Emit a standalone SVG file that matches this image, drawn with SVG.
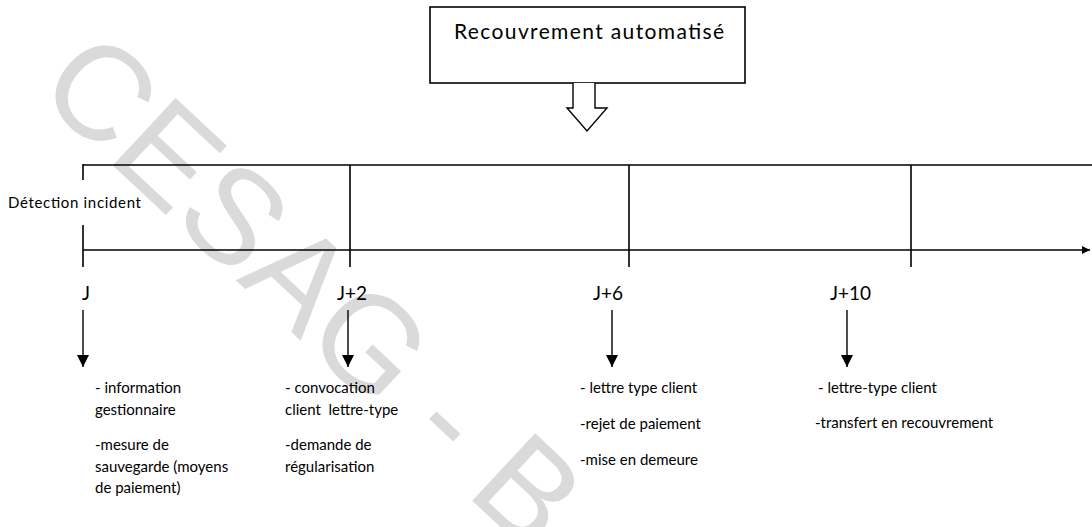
<svg xmlns="http://www.w3.org/2000/svg" width="1092" height="527" viewBox="0 0 1092 527">
<style>
  .ln { stroke: #000; stroke-width: 1.6; fill: none; }
  .ar { stroke: #000; stroke-width: 1.4; fill: none; }
  .t { font-family: Lato, "Liberation Sans", sans-serif; font-size: 15px; fill: #000; }
  .lbl { font-family: Lato, "Liberation Sans", sans-serif; font-size: 19px; fill: #000; }
  .wm { font-family: "Liberation Sans", Arial, sans-serif; font-size: 134px; fill: #dadada; }
</style>
<defs>
  <marker id="ah" viewBox="0 0 10 10" refX="10" refY="5" markerWidth="8" markerHeight="8" markerUnits="userSpaceOnUse" orient="auto">
    <path d="M0,0 L10,5 L0,10 Z" fill="#000"/>
  </marker>
  <marker id="ah2" viewBox="0 0 10 10" refX="10" refY="5" markerWidth="12" markerHeight="12" markerUnits="userSpaceOnUse" orient="auto">
    <path d="M0,0 L10,5 L0,10 Z" fill="#000"/>
  </marker>
</defs>

<text class="wm" transform="translate(34,92) rotate(43)">CESAG - B</text>

<g id="title">
  <rect x="430" y="7" width="315" height="76" fill="#fff" stroke="#000" stroke-width="1.6"/>
  <text class="t" x="454" y="39" style="font-size:21px" textLength="270" lengthAdjust="spacing">Recouvrement automatisé</text>
</g>

<g id="block-arrow">
  <path d="M573,83 L573,108 L567,108 L587,131 L607,108 L595,108 L595,83" fill="#fff" stroke="#000" stroke-width="1.4"/>
</g>

<g id="connectors">
  <line class="ln" x1="83" y1="165" x2="1092" y2="165"/>
  <line class="ln" x1="83" y1="250" x2="1090" y2="250" marker-end="url(#ah)"/>
  <line class="ln" x1="83" y1="164" x2="83" y2="180"/>
  <line class="ln" x1="83" y1="225" x2="83" y2="267"/>
  <line class="ln" x1="350" y1="165" x2="350" y2="267"/>
  <line class="ln" x1="629" y1="165" x2="629" y2="267"/>
  <line class="ln" x1="911" y1="165" x2="911" y2="267"/>
  <line class="ar" x1="83" y1="310" x2="83" y2="367" marker-end="url(#ah2)"/>
  <line class="ar" x1="348" y1="310" x2="348" y2="367" marker-end="url(#ah2)"/>
  <line class="ar" x1="612" y1="310" x2="612" y2="367" marker-end="url(#ah2)"/>
  <line class="ar" x1="847" y1="310" x2="847" y2="367" marker-end="url(#ah2)"/>
</g>

<g id="detection">
  <text class="t" x="8" y="208" textLength="133" lengthAdjust="spacing">Détection incident</text>
</g>

<g id="j0">
  <text class="lbl" x="82" y="300">J</text>
  <text class="t" x="95" y="393">- information</text>
  <text class="t" x="95" y="415">gestionnaire</text>
  <text class="t" x="95" y="450">-mesure de</text>
  <text class="t" x="95" y="472">sauvegarde (moyens</text>
  <text class="t" x="95" y="493">de paiement)</text>
</g>

<g id="j2">
  <text class="lbl" x="337" y="300">J+2</text>
  <text class="t" x="285" y="393">- convocation</text>
  <text class="t" x="285" y="415">client&#160; lettre-type</text>
  <text class="t" x="285" y="450">-demande de</text>
  <text class="t" x="285" y="472">régularisation</text>
</g>

<g id="j6">
  <text class="lbl" x="593" y="300">J+6</text>
  <text class="t" x="580" y="393">- lettre type client</text>
  <text class="t" x="580" y="429">-rejet de paiement</text>
  <text class="t" x="580" y="465">-mise en demeure</text>
</g>

<g id="j10">
  <text class="lbl" x="830" y="300">J+10</text>
  <text class="t" x="818" y="393">- lettre-type client</text>
  <text class="t" x="815" y="428">-transfert en recouvrement</text>
</g>
</svg>
